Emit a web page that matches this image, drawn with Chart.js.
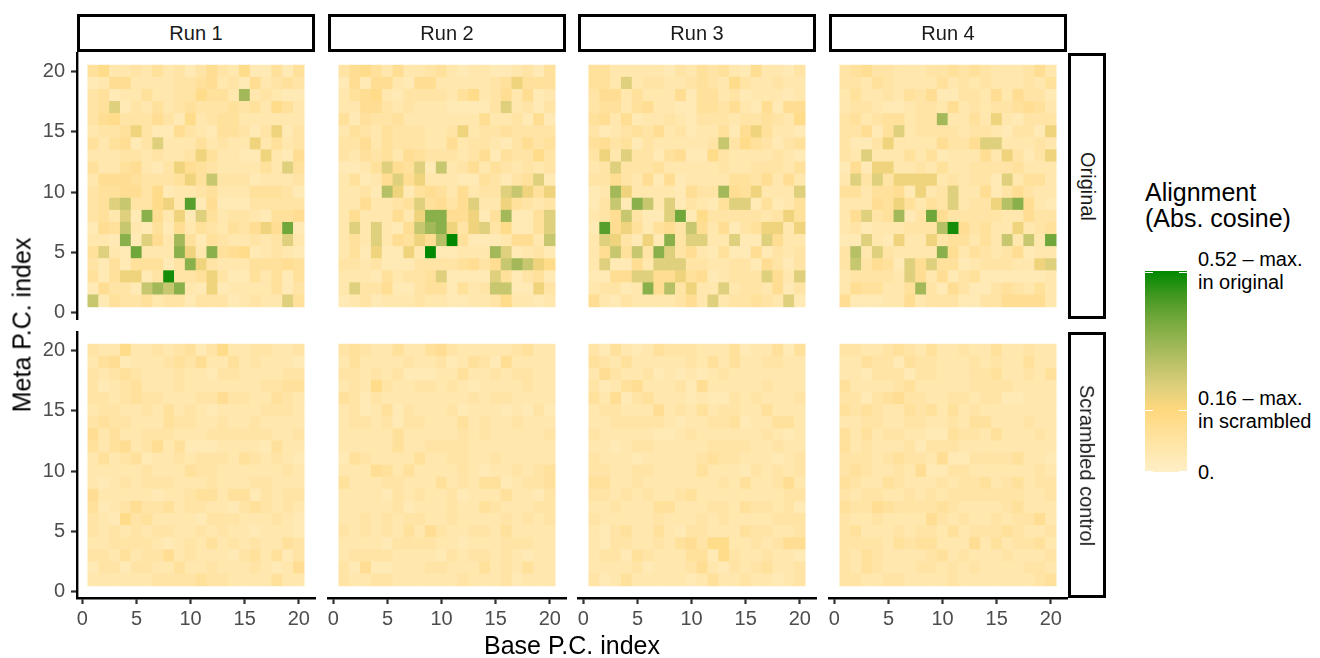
<!DOCTYPE html>
<html>
<head>
<meta charset="utf-8">
<script src="https://cdn.jsdelivr.net/npm/chart.js@4.4.0/dist/chart.umd.min.js"></script>
<style>
  body { margin: 0; width: 1320px; height: 658px; background: #fff; position: relative; overflow: hidden;
         font-family: "Liberation Sans", Arial, sans-serif; }
  canvas { position: absolute; }
  .strip { position: absolute; box-sizing: border-box; border: 3px solid #000; background: #fff;
           color: #1a1a1a; font-size: 20px; display: flex; align-items: center; justify-content: center; }
  .strip span { white-space: nowrap; display: inline-block; }
  .strip.side span { transform: rotate(90deg); }
  .title { position: absolute; font-size: 25px; color: #000; white-space: nowrap; }
  .leg { position: absolute; font-size: 20px; line-height: 23px; color: #000; white-space: nowrap; }
  .mark { position: absolute; height: 1px; width: 8px; background: #fff; }
</style>
</head>
<body>
<div id="root"></div>
<script>
// facet labels and axis ticks
const RUNS = ['Run 1', 'Run 2', 'Run 3', 'Run 4'];
const CONDITIONS = ['Original', 'Scrambled control'];
const X_TICKS = [0, 5, 10, 15, 20];
const Y_TICKS = [0, 5, 10, 15, 20];

// cell codes -> abs. cosine
const LEVEL = { '2': 0.04, '3': 0.055, '4': 0.075, '5': 0.095, '6': 0.115, '7': 0.135, '8': 0.15, '9': 0.16,
  'a': 0.19, 'b': 0.22, 'c': 0.26, 'd': 0.29, 'e': 0.32, 'f': 0.36, 'g': 0.40, 'h': 0.43,
  'i': 0.46, 'j': 0.48, 'k': 0.50, 'l': 0.52 };

// rows from meta index 20 (top) down to 1, columns base index 1..20
const RUN1_ORIGINAL = [
  '57334353424643722525', '23663333445634263454', '45233533447553e34322', '45b24353454445453753',
  '46744464273455333333', '3445a422643255424a24', '535624b33353433a3534', '3334434334a53322a326',
  '53356324a654333353b5', '366654445a5c44423334', '45566472334533355542', '45bc447a3h2622244444',
  '453b2f63a2b534432556', '265c325263543546a6g2', '332f2b63e525433434b3', '5b32g333fa3f56723432',
  '425255524fa433355565', '525aa24k445a42253525', '26442cecf32a23333524', 'c25445344244423433b5'];
const RUN2_ORIGINAL = [
  '46753633453233223425', '2626632663333345a555', '35673244443573463623', '336643433322224b3424',
  '52544533333336334262', '35435444334a34454444', '44635444336344324645', '43545365444346254474',
  '2235b65b2c3463543434', '35236b6a3332254245b2', '3342da256536344bca5a', '3363345b5646b33a5434',
  '3633363aff66a25e225b', '3b3b326cefa4ab47225b', '353b365a6dl52223663c', '352a22a3l22333eb2342',
  '443422244445646ceca7', '333253445b2222b52452', '3b446224552534cc22a4', '23423334332233473323'];
const RUN3_ORIGINAL = [
  '55333332435453263324', '553b3443345437433433', '46635333625534233323', '45535633225546326266',
  '56362334324443445437', '423454634233526a5332', '564524333334c4754245', '4a3b4425622743333432',
  '34b44453333343344435', '44643626233335546363', '23ea33332644e65a333b', '24c2fc3b24325bb25235',
  '346c422bg274444434a5', '2h6a52564c636245aa3a', '3ba42a2f4bb33b22b633', '36c5c4fb463252262434',
  '3b2263bbb44334426424', '2266bb66a5623444b63b', '34423f6d4a33b3443624', '63243333463b344543b2'];
const RUN4_ORIGINAL = [
  '45644333445454333463', '44354333353434333435', '35334354622443636442', '34432234436343445653',
  '453455344e3353a32444', '44625b3444434432442a', '4224a33336446bb33343', '43b333535233363a424a',
  '262aa334353344445333', '3b4b4aaaa343442b3553', '5535562a34b336246433', '33365a5354b344adf632',
  '36b45e24g64444433644', '342333444dk64533a345', '22b32a33a455353c3c3g', '4d3b43333f6354346233',
  '4c4652b6b552344433ab', '344443b6362452222223', '3655335e426422454353', '62223363444224466663'];

const RUN1_SCRAMBLED = [
  '43373343452473344334', '35623334546335343332', '43454333433244333344', '42345333433333334455',
  '44345443334464433543', '34433435343233334443', '45443335443343343333', '63533444333444444334',
  '53563463522233332533', '35345233434443543432', '33333433354433333343', '32343444333433344333',
  '63333323345535524344', '52346445344332454343', '43274533332444333432', '43434344334343323332',
  '33444432343534343354', '44353446343332453524', '24424433533433343236', '33333344445443333533'];
const RUN2_SCRAMBLED = [
  '45433533564333334533', '35333343342354263333', '44343422233533434433', '34374334434323333433',
  '54243333333343443333', '34235243334233323242', '34434244333534334333', '33333533333434333334',
  '33333533444433333333', '25433335334433433333', '33365353333432334345', '53334433353435523445',
  '33332434334233353324', '33333423334335433344', '33434344334333343434', '43434353643344353333',
  '33332444433233344433', '34444333324344343233', '42622333443335343533', '43344333333433342333'];
const RUN3_SCRAMBLED = [
  '42532354443335233525', '54353333343535334433', '36433423232343333333', '42356333426333334333',
  '53624533323224343334', '34433363435344335333', '33444443233445233553', '43333322343333334323',
  '33234433333444433433', '43332333334544333234', '44334433335333243434', '55334333333343533463',
  '44343433453333333344', '33433355333443544342', '43333343334343333444', '32453353244333544334',
  '32443343564773343466', '34425433355274334332', '33334233346324345334', '42353333323533433234'];
const RUN4_SCRAMBLED = [
  '44334543533433533433', '33544254433343433533', '33244424433344533435', '53333453333344443333',
  '44245644334434422333', '54543354535343333333', '33443344334355333433', '53534433225443533343',
  '53433342444333333333', '44434544362244445332', '45433436224433333343', '54335433343445345344',
  '43443343434444444334', '54465444454333345333', '43343333643433434463', '45333434435344454334',
  '44443545533363534453', '43543333453433343334', '43543334434343333443', '44334433334333333345'];

const PANELS = [
  [RUN1_ORIGINAL, RUN2_ORIGINAL, RUN3_ORIGINAL, RUN4_ORIGINAL],
  [RUN1_SCRAMBLED, RUN2_SCRAMBLED, RUN3_SCRAMBLED, RUN4_SCRAMBLED]
];

// colour scale: cream -> yellow at 0.16 -> green at 0.52
const LEGEND_BREAKS = [0, 0.16, 0.52];
const LEGEND_LABELS = [['0.'], ['0.16 \u2013 max.', 'in scrambled'], ['0.52 \u2013 max.', 'in original']];
const COLOUR_STOPS = [
  [0.00, [255, 239, 199]],
  [0.16, [255, 216, 126]],
  [0.22, [222, 208, 124]],
  [0.28, [188, 194, 104]],
  [0.34, [150, 181, 82]],
  [0.40, [112, 167, 58]],
  [0.46, [62, 151, 30]],
  [0.52, [0, 136, 0]]
];
const V_MAX = 0.52;

function colourFor(v) {
  for (let i = 1; i < COLOUR_STOPS.length; i++) {
    const [v1, c1] = COLOUR_STOPS[i];
    const [v0, c0] = COLOUR_STOPS[i - 1];
    if (v <= v1 || i === COLOUR_STOPS.length - 1) {
      const t = Math.max(0, Math.min(1, (v - v0) / (v1 - v0)));
      const c = c0.map((x, j) => Math.round(x + t * (c1[j] - x)));
      return 'rgb(' + c.join(',') + ')';
    }
  }
}

// layout
const PANEL_LEFT = [77, 328, 578, 829];
const PANEL_TOP = [53, 332];
const PANEL_W = 238, PANEL_H = 266;
const Y_AXIS_W = 77, X_AXIS_H = 62, PAD = 12;

Chart.defaults.font.family = '"Liberation Sans", Arial, sans-serif';

const root = document.getElementById('root');

function addDiv(cls, css, html) {
  const d = document.createElement('div');
  d.className = cls;
  Object.assign(d.style, css);
  if (html !== undefined) d.innerHTML = html;
  root.appendChild(d);
  return d;
}

function axisOptions(show, ticks, fit) {
  const opts = {
    type: 'linear', min: -0.5, max: 21.5, offset: false, display: show,
    afterBuildTicks: s => { s.ticks = ticks.map(v => ({ value: v })); },
    grid: { display: true, drawOnChartArea: false, drawTicks: true, tickLength: 6,
            tickColor: '#333333', tickWidth: 2.2, offset: false },
    border: { display: true, color: '#000', width: 2.4 },
    ticks: { color: '#4d4d4d', font: { size: 20 }, padding: 6, maxRotation: 0, autoSkip: false }
  };
  // only force the size of axes that are drawn; labels sit inside the range, so no edge padding
  if (show) opts.afterFit = s => {
    fit(s);
    s.paddingTop = 0; s.paddingBottom = 0; s.paddingLeft = 0; s.paddingRight = 0;
  };
  return opts;
}

function buildPanel(r, c) {
  const rows = PANELS[r][c];
  const showX = r === PANELS.length - 1;
  const showY = c === 0;
  const points = [], colours = [];
  rows.forEach((line, k) => {
    const y = rows.length - k;
    line.split('').forEach((ch, i) => {
      points.push({ x: i + 1, y: [y - 0.5, y + 0.5] });
      colours.push(colourFor(LEVEL[ch]));
    });
  });

  const left = showY ? Y_AXIS_W : PAD;
  const bottom = showX ? X_AXIS_H : PAD;
  const cv = document.createElement('canvas');
  cv.width = left + PANEL_W + PAD;
  cv.height = PAD + PANEL_H + bottom;
  cv.style.left = (PANEL_LEFT[c] - left) + 'px';
  cv.style.top = (PANEL_TOP[r] - PAD) + 'px';
  root.appendChild(cv);

  const xAxis = axisOptions(showX, X_TICKS, s => { s.height = X_AXIS_H; });
  xAxis.ticks.padding = 3;
  const yAxis = axisOptions(showY, Y_TICKS, s => { s.width = Y_AXIS_W; });

  new Chart(cv, {
    type: 'bar',
    data: { datasets: [{ data: points, backgroundColor: colours, borderWidth: 0,
                         barPercentage: 1, categoryPercentage: 1 }] },
    options: {
      responsive: false, animation: false, devicePixelRatio: 1,
      layout: { padding: { left: showY ? 0 : PAD, right: PAD, top: PAD, bottom: showX ? 0 : PAD } },
      plugins: { legend: { display: false }, tooltip: { enabled: false } },
      scales: { x: xAxis, y: yAxis }
    }
  });
}

for (let r = 0; r < PANELS.length; r++)
  for (let c = 0; c < RUNS.length; c++) buildPanel(r, c);

// strips
RUNS.forEach((name, c) => addDiv('strip', { left: PANEL_LEFT[c] + 'px', top: '14px',
  width: PANEL_W + 'px', height: '38px' }, '<span>' + name + '</span>'));
CONDITIONS.forEach((name, r) => addDiv('strip side', { left: '1068px', top: PANEL_TOP[r] + 'px',
  width: '38px', height: PANEL_H + 'px' }, '<span>' + name + '</span>'));

// axis titles
addDiv('title', { left: '572px', top: '645px', transform: 'translate(-50%,-50%)' }, 'Base P.C. index');
addDiv('title', { left: '22px', top: '325px', transform: 'translate(-50%,-50%) rotate(-90deg)' }, 'Meta P.C. index');

// legend
const BAR_X = 1145, BAR_TOP = 271, BAR_W = 42, BAR_H = 201;
addDiv('title', { left: BAR_X + 'px', top: '179px', lineHeight: '26px' }, 'Alignment<br>(Abs. cosine)');
const grad = COLOUR_STOPS.map(([v, c]) => 'rgb(' + c.join(',') + ') ' + (v / V_MAX * 100).toFixed(1) + '%').join(', ');
addDiv('', { position: 'absolute', left: BAR_X + 'px', top: BAR_TOP + 'px', width: BAR_W + 'px',
  height: BAR_H + 'px', background: 'linear-gradient(to top, ' + grad + ')' });
LEGEND_BREAKS.forEach((b, i) => {
  const y = BAR_TOP + BAR_H - b / V_MAX * BAR_H;
  const yy = Math.min(Math.max(y, BAR_TOP + 1), BAR_TOP + BAR_H - 1);
  addDiv('mark', { left: BAR_X + 'px', top: (yy - 0.5) + 'px' });
  addDiv('mark', { left: (BAR_X + BAR_W - 8) + 'px', top: (yy - 0.5) + 'px' });
  const lines = LEGEND_LABELS[i];
  addDiv('leg', { left: '1198px', top: (y - lines.length * 23 / 2) + 'px' }, lines.join('<br>'));
});
</script>
</body>
</html>
